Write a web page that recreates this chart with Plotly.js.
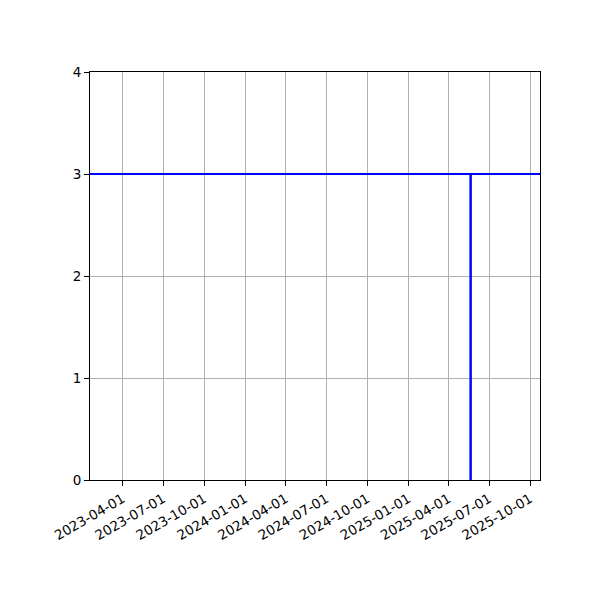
<!DOCTYPE html>
<html>
<head>
<meta charset="utf-8">
<script src="https://cdn.plot.ly/plotly-3.0.1.min.js"></script>
<style>html,body{margin:0;padding:0;background:#fff;}#chart{width:600px;height:600px;}</style>
</head>
<body>
<div id="chart"></div>
<script>
const dates = ['2023-01-01', '2025-05-20', '2025-05-21', '2025-12-31'];
const values = [3, 0, 3, 3];
const tickDates = ['2023-04-01','2023-07-01','2023-10-01','2024-01-01','2024-04-01','2024-07-01','2024-10-01','2025-01-01','2025-04-01','2025-07-01','2025-10-01'];
const xRange = ['2023-01-18', '2025-10-23'];
const yTicks = [0, 1, 2, 3, 4];

const trace = {
  x: dates, y: values, type: 'scatter', mode: 'lines',
  line: {color: '#0000ff', width: 2, shape: 'hv'},
  showlegend: false, hoverinfo: 'skip'
};
const font = {family: 'DejaVu Sans', size: 13.5, color: '#000'};
const layout = {
  width: 600, height: 600,
  margin: {l: 90, r: 60, t: 72, b: 120},
  paper_bgcolor: '#fff', plot_bgcolor: '#fff',
  font: font,
  showlegend: false,
  xaxis: {
    type: 'date', range: xRange,
    tickmode: 'array', tickvals: tickDates, ticktext: tickDates,
    tickangle: -30, ticks: 'outside', ticklen: 5, tickcolor: '#000', tickwidth: 1,
    showgrid: true, gridcolor: '#b0b0b0', gridwidth: 1,
    showline: true, linecolor: '#000', linewidth: 1, mirror: true,
    zeroline: false, tickfont: font
  },
  yaxis: {
    range: [0, 4], tickmode: 'array', tickvals: yTicks,
    ticks: 'outside', ticklen: 5, tickcolor: '#000', tickwidth: 1,
    showgrid: true, gridcolor: '#b0b0b0', gridwidth: 1,
    showline: true, linecolor: '#000', linewidth: 1, mirror: true,
    zeroline: false, tickfont: font
  }
};
Plotly.newPlot('chart', [trace], layout, {displayModeBar: false, staticPlot: true});
</script>
</body>
</html>
